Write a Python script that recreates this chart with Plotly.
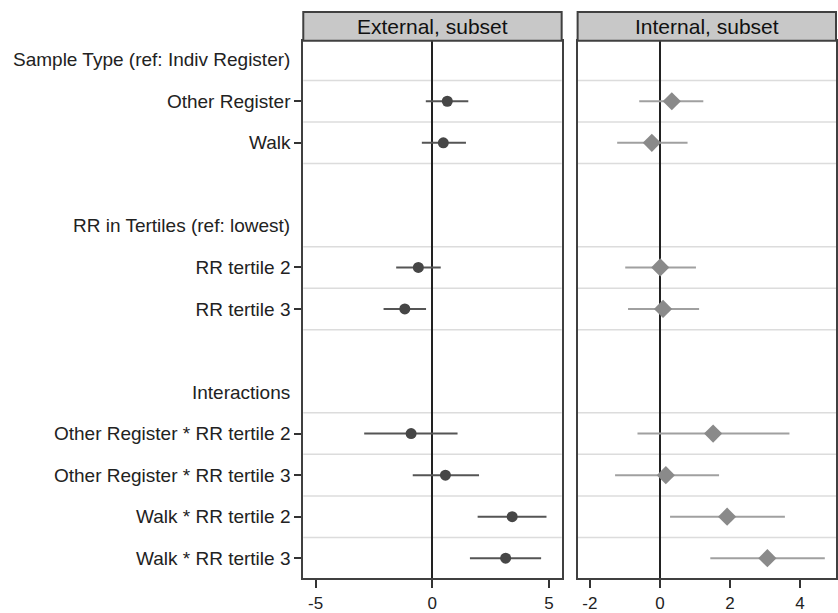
import plotly.graph_objects as go

# ---- data ----
rows = [
    "Sample Type (ref: Indiv Register)",
    "Other Register",
    "Walk",
    "",
    "RR in Tertiles (ref: lowest)",
    "RR tertile 2",
    "RR tertile 3",
    "",
    "Interactions",
    "Other Register * RR tertile 2",
    "Other Register * RR tertile 3",
    "Walk * RR tertile 2",
    "Walk * RR tertile 3",
]
headers = ["Sample Type (ref: Indiv Register)", "RR in Tertiles (ref: lowest)", "Interactions"]
coefs = ["Other Register", "Walk", "RR tertile 2", "RR tertile 3",
         "Other Register * RR tertile 2", "Other Register * RR tertile 3",
         "Walk * RR tertile 2", "Walk * RR tertile 3"]

ext_est = [0.64, 0.47, -0.60, -1.18, -0.91, 0.56, 3.42, 3.14]
ext_lo = [-0.28, -0.45, -1.55, -2.09, -2.92, -0.84, 1.94, 1.61]
ext_hi = [1.54, 1.44, 0.36, -0.27, 1.08, 2.00, 4.89, 4.66]

int_est = [0.34, -0.23, 0.01, 0.09, 1.52, 0.17, 1.92, 3.07]
int_lo = [-0.59, -1.22, -0.99, -0.91, -0.64, -1.28, 0.29, 1.44]
int_hi = [1.24, 0.79, 1.03, 1.12, 3.70, 1.69, 3.57, 4.71]

panel_titles = ["External, subset", "Internal, subset"]
ext_ticks = [-5, 0, 5]
ext_ticktext = ["-5", "0", "5"]
int_ticks = [-2, 0, 2, 4]
int_ticktext = ["-2", "0", "2", "4"]

# ---- geometry helpers ----
W, H = 838, 613
row_pos = {name: i + 1 for i, name in enumerate(rows) if name}
coef_y = [row_pos[c] for c in coefs]

FONT = "Arial, Liberation Sans, sans-serif"
LABEL_SIZE = 19

fig = go.Figure()

fig.add_trace(go.Scatter(
    x=ext_est, y=coef_y, mode="markers",
    marker=dict(symbol="circle", size=11, color="#464646"),
    error_x=dict(type="data", symmetric=False,
                 array=[h - e for h, e in zip(ext_hi, ext_est)],
                 arrayminus=[e - l for e, l in zip(ext_est, ext_lo)],
                 width=0, thickness=2, color="#555555"),
    xaxis="x", yaxis="y", showlegend=False, hoverinfo="skip"))

fig.add_trace(go.Scatter(
    x=int_est, y=coef_y, mode="markers",
    marker=dict(symbol="diamond", size=14, color="#8a8a8a"),
    error_x=dict(type="data", symmetric=False,
                 array=[h - e for h, e in zip(int_hi, int_est)],
                 arrayminus=[e - l for e, l in zip(int_est, int_lo)],
                 width=0, thickness=2, color="#a0a0a0"),
    xaxis="x2", yaxis="y2", showlegend=False, hoverinfo="skip"))

ydom = [1 - 581 / H, 1 - 41 / H]
yrange = [13.48, 0.545]
d1 = [304 / W, 563 / W]
d2 = [579 / W, 1.0]

common_x = dict(showgrid=False, ticks="outside", ticklen=8, tickwidth=1.5,
                tickcolor="#333333", showline=True, linecolor="#404040",
                linewidth=2, mirror=True, zeroline=True, zerolinecolor="#222222",
                zerolinewidth=1.5, tickfont=dict(family=FONT, size=17, color="#222222"))

fig.update_layout(
    width=W, height=H,
    margin=dict(l=0, r=0, t=0, b=0),
    paper_bgcolor="white", plot_bgcolor="white",
    font=dict(family=FONT),
    xaxis=dict(domain=d1, range=[-5.53, 5.54], tickvals=ext_ticks,
               ticktext=ext_ticktext, anchor="y", **common_x),
    xaxis2=dict(domain=d2, range=[-2.35, 5.03], tickvals=int_ticks,
                ticktext=int_ticktext, anchor="y2", **common_x),
    yaxis=dict(domain=ydom, range=yrange, tickvals=coef_y, ticktext=coefs,
               ticks="outside", ticklen=7, tickwidth=1.5, tickcolor="#333333",
               showgrid=False, zeroline=False, showline=True, linecolor="#404040",
               linewidth=2, mirror=True, anchor="x",
               tickfont=dict(family=FONT, size=LABEL_SIZE, color="#222222")),
    yaxis2=dict(domain=ydom, range=yrange, showticklabels=False, ticks="",
                showgrid=False, zeroline=False, showline=True, linecolor="#404040",
                linewidth=2, mirror=True, anchor="x2"),
)

# gridlines between rows adjacent to coefficients
grid_ys = [1.5, 2.5, 3.5, 5.5, 6.5, 7.5, 9.5, 10.5, 11.5, 12.5]
for xr, yr in (("x domain", "y"), ("x2 domain", "y2")):
    for gy in grid_ys:
        fig.add_shape(type="line", xref=xr, yref=yr, x0=0, x1=1, y0=gy, y1=gy,
                      line=dict(color="#dcdcdc", width=1.5), layer="below")

# panel header boxes
for dom, title in zip((d1, d2), panel_titles):
    fig.add_shape(type="rect", xref="paper", yref="paper",
                  x0=dom[0], x1=dom[1], y0=1 - 41 / H, y1=1 - 12 / H,
                  fillcolor="#c8c8c8", line=dict(color="#404040", width=2))
    fig.add_annotation(xref="paper", yref="paper", x=(dom[0] + dom[1]) / 2,
                       y=1 - 26.5 / H, text=title, showarrow=False,
                       xanchor="center", yanchor="middle",
                       font=dict(family=FONT, size=21, color="#111111"))

# group header labels
for h in headers:
    fig.add_annotation(xref="paper", yref="y", x=293 / W, y=row_pos[h],
                       text=h, showarrow=False, xanchor="right", yanchor="middle",
                       font=dict(family=FONT, size=LABEL_SIZE, color="#222222"))

fig.write_html("out.html",
               config={"displayModeBar": False},
               post_script="document.body.style.margin='0';"
                           "document.body.style.overflow='hidden';")
